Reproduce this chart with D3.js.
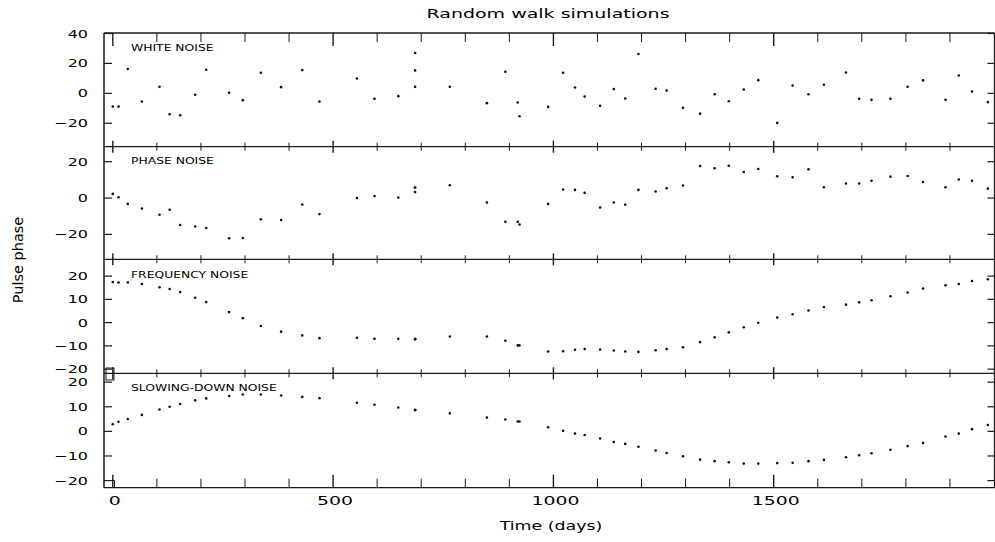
<!DOCTYPE html>
<html>
<head>
<meta charset="utf-8">
<script src="https://cdn.jsdelivr.net/npm/d3@7"></script>
<style>
body { margin: 0; background: #fff; }
text { font-family: "DejaVu Sans", sans-serif; fill: #000; }
</style>
</head>
<body>
<script>
// sampling times (days), shared by the four simulations
const days = [0, 13, 34, 66, 106, 129, 153, 187, 212, 264, 295, 336, 382, 430, 469, 554, 594, 648,
  686, 686, 686, 765, 849, 891, 919, 923,
  988, 1022, 1049, 1071, 1106, 1137, 1163, 1193, 1232, 1257, 1294, 1333, 1366, 1398, 1432, 1465,
  1508, 1543, 1579, 1614, 1664, 1694, 1722, 1765, 1804, 1839, 1890, 1920, 1950, 1986];

const whiteNoise = [-9.2, -9.2, 15.9, -5.8, 4, -14.3, -15, -1.3, 15.4, 0, -4.9, 13.4, 3.8, 15.2, -5.8, 9.6, -4, -2.2,
  26.6, 15, 4, 4, -6.9, 14.1, -6.5, -15.6,
  -9.4, 13.4, 3.6, -2.5, -8.7, 2.5, -3.8, 26, 2.7, 1.5, -10, -13.9, -0.9, -5.6, 2.2, 8.5,
  -20.1, 4.9, -0.9, 5.4, 13.6, -4, -4.7, -4, 4, 8.3, -4.7, 11.6, 0.9, -6.2];

const phaseNoise = [2, 0.2, -3.5, -6, -9.5, -6.7, -15.1, -15.9, -16.8, -22.4, -22.3, -12, -12.4, -3.8, -9.1, -0.3, 0.8, 0,
  3, 5.5, 5.5, 6.8, -2.7, -13.3, -13.3, -14.8,
  -3.5, 4.4, 4.2, 2.6, -5.5, -2.7, -4, 4.2, 3.3, 5.1, 6.6, 17.4, 16.1, 17.5, 14.1, 15.7,
  11.7, 11.2, 15.6, 5.7, 7.7, 7.7, 9.2, 11.5, 11.9, 8.6, 5.7, 9.9, 9.2, 4.9];

const frequencyNoise = [17.2, 17, 17, 16.4, 15, 14.2, 12.9, 10.5, 8.6, 4.3, 1.7, -1.7, -4.1, -5.7, -6.9, -6.7, -7.2, -7.2,
  -7.3, -7.3, -7.3, -6.2, -6.2, -8, -10, -10,
  -12.6, -12.5, -11.9, -11.6, -11.8, -12.2, -12.6, -12.8, -12.1, -11.6, -10.8, -8.6, -6.5, -4.4, -2.2, -0.3,
  2, 3.4, 5, 6.5, 7.5, 8.5, 9.4, 11.1, 12.7, 14.4, 15.8, 16.4, 17.7, 18.4];

const slowingDownNoise = [2.7, 3.7, 4.8, 6.5, 8.7, 9.8, 10.9, 12.4, 13.2, 14.2, 14.8, 14.8, 14.4, 13.8, 13.3, 11.4, 10.6, 9.5,
  8.5, 8.5, 8.5, 7.1, 5.4, 4.6, 3.8, 3.8,
  1.5, 0, -1.1, -1.7, -3.1, -4.5, -5.3, -6.5, -8, -9, -10.3, -11.7, -12.3, -12.8, -13.3, -13.3,
  -13.1, -13, -12.3, -11.8, -10.7, -9.9, -9.1, -7.7, -6.2, -4.9, -2.3, -1.1, 0.7, 2.4];

const panelNames = ['WHITE NOISE', 'PHASE NOISE', 'FREQUENCY NOISE', 'SLOWING-DOWN NOISE'];
const panelValues = [whiteNoise, phaseNoise, frequencyNoise, slowingDownNoise];
const panelDomains = [[-36, 40], [-34, 28], [-22, 27], [-23.1, 23.4]];
const panelTicks = [[-20, 0, 20, 40], [-20, 0, 20], [-20, -10, 0, 10, 20], [-20, -10, 0, 10, 20]];
const xTickLabels = [0, 500, 1000, 1500];

const svg = d3.select('body').append('svg')
    .attr('width', 995)
    .attr('height', 542);

const ink = '#1a1a1a';
const left = 104, right = 994.5;
const bounds = [33, 146.7, 259.3, 373.3, 487.7];

const x = d3.scaleLinear().domain([-20, 2000]).range([left, 994]);

// stretched text, to get the wide plotter lettering
function wide(str, px, py, size, sx, anchor) {
  return svg.append('g')
      .attr('transform', `translate(${px},${py}) scale(${sx},1)`)
    .append('text')
      .attr('font-size', size)
      .attr('text-anchor', anchor)
      .text(str);
}

const fmt = v => (v < 0 ? '\u2212' : '') + Math.abs(v);

panelValues.forEach((vals, i) => {
  const y = d3.scaleLinear().domain(panelDomains[i]).range([bounds[i + 1], bounds[i]]);
  const g = svg.append('g');

  // y ticks, pointing inwards on both sides
  g.append('g')
      .attr('transform', `translate(${left},0)`)
      .call(d3.axisLeft(y).tickValues(panelTicks[i]).tickSize(-8).tickFormat(''))
      .call(a => a.select('.domain').remove())
      .call(a => a.selectAll('line').attr('stroke', ink).attr('stroke-width', 1.2));
  g.append('g')
      .attr('transform', `translate(${right},0)`)
      .call(d3.axisRight(y).tickValues(panelTicks[i]).tickSize(-7).tickFormat(''))
      .call(a => a.select('.domain').remove())
      .call(a => a.selectAll('line').attr('stroke', ink).attr('stroke-width', 1.2));

  panelTicks[i].forEach(t => wide(fmt(t), 88, y(t) + 4.5, 11, 1.45, 'end'));

  wide(panelNames[i], 131, [50.7, 164, 277.7, 391][i], 9.5, 1.3, 'start');

  g.selectAll('circle')
    .data(days.map((d, k) => [d, vals[k]]))
    .enter()
    .append('circle')
    .attr('cx', d => x(d[0]))
    .attr('cy', d => y(d[1]))
    .attr('r', 1.3)
    .attr('fill', '#111');
});

// frame
svg.append('g').selectAll('line')
  .data(bounds)
  .enter()
  .append('line')
  .attr('x1', left).attr('x2', right)
  .attr('y1', d => d).attr('y2', d => d)
  .attr('stroke', ink).attr('stroke-width', 1.3);
svg.append('line')
  .attr('x1', left).attr('x2', left)
  .attr('y1', bounds[0]).attr('y2', bounds[4])
  .attr('stroke', ink).attr('stroke-width', 1.5);
svg.append('line')
  .attr('x1', right).attr('x2', right)
  .attr('y1', bounds[0]).attr('y2', bounds[4])
  .attr('stroke', ink).attr('stroke-width', 1.3);

// x ticks on every horizontal line, crossing it
const xt = d3.range(0, 2000, 100);
bounds.forEach((b, j) => {
  const up = j === 0 ? 0 : 1, down = j === 4 ? 0 : 1;
  svg.append('g').selectAll('line')
    .data(xt)
    .enter()
    .append('line')
    .attr('x1', d => x(d)).attr('x2', d => x(d))
    .attr('y1', d => b - up * (d % 500 === 0 ? 6 : 4) - (j === 4 ? (d % 500 === 0 ? 7 : 5) : 0))
    .attr('y2', d => b + down * (d % 500 === 0 ? 6 : 4) + (j === 0 ? (d % 500 === 0 ? 7 : 5) : 0))
    .attr('stroke', ink).attr('stroke-width', d => d % 500 === 0 ? 1.4 : 1);
});

// little boxes at the lower left of the bottom panels
svg.append('rect')
  .attr('x', 106).attr('y', 368).attr('width', 8).attr('height', 12)
  .attr('fill', 'none').attr('stroke', ink).attr('stroke-width', 1);
svg.append('path')
  .attr('d', 'M104,480.5 H114.5 V487.7')
  .attr('fill', 'none').attr('stroke', ink).attr('stroke-width', 1);

xTickLabels.forEach(t => wide(String(t), x(t) + 2, 505, 13, 1.45, 'middle'));

wide('Random walk simulations', 548, 18, 12.5, 1.52, 'middle');
wide('Time (days)', 551, 530, 12, 1.45, 'middle');

svg.append('text')
  .attr('transform', 'translate(23,260) rotate(-90)')
  .attr('text-anchor', 'middle')
  .attr('font-family', '"Liberation Sans", sans-serif')
  .attr('font-size', 14.5)
  .text('Pulse phase');
</script>
</body>
</html>
